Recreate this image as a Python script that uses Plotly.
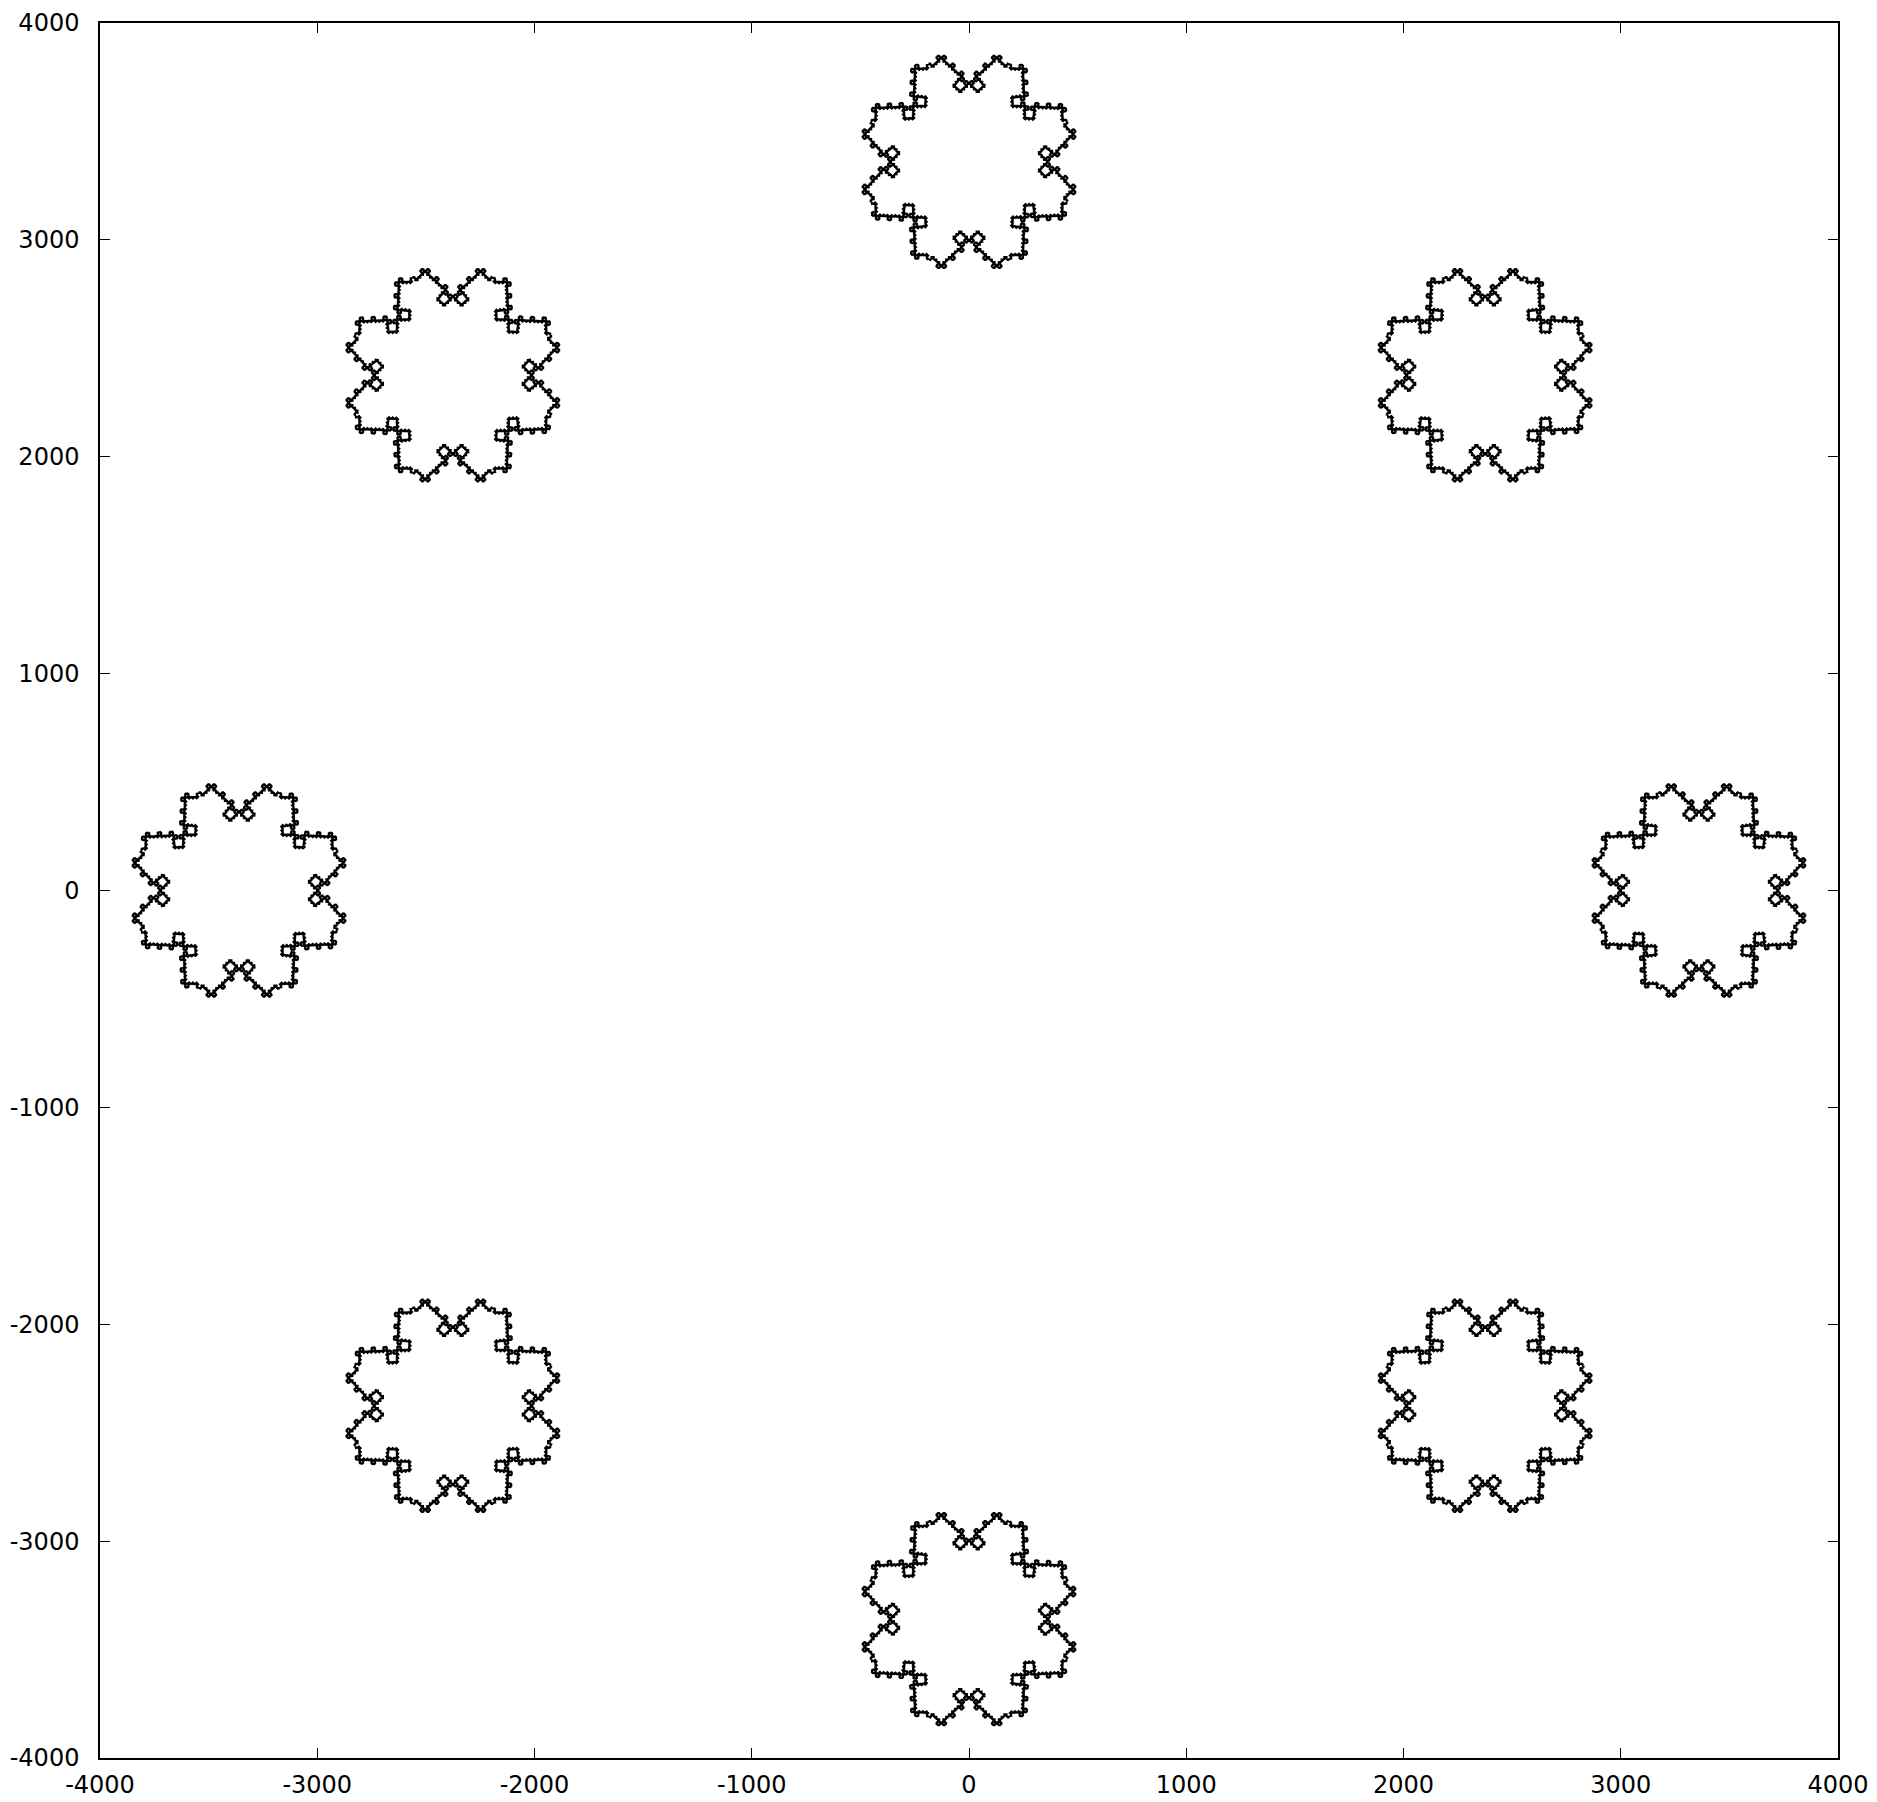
import numpy as np
import plotly.graph_objects as go

# ---- data ----
ring_angles_deg = [0, 45, 90, 135, 180, 225, 270, 315]   # directions of the 8 flakes
ring_radius = [3360]                                       # distance of flake centres from origin
flake_half_width = [490]                                   # horizontal half-extent of each flake
flake_sides = [8]                                          # base polygon of each flake
generator_turn_deg = [85]                                  # turn angle of the Koch-type generator
generator_flips = [-1, -1, -1, -1, -1]                     # bump side of each sub-segment
recursion_depth = [4]
x_ticks = [-4000, -3000, -2000, -1000, 0, 1000, 2000, 3000, 4000]
y_ticks = [-4000, -3000, -2000, -1000, 0, 1000, 2000, 3000, 4000]


def generator(turn_deg):
    t = np.deg2rad(turn_deg)
    return np.array([1, np.exp(1j * t), 1, np.exp(-1j * t), 1])


def edge(a, b, g, depth, flips, sign):
    if depth == 0:
        return [a]
    gg = g if sign > 0 else np.conj(g)
    c = np.concatenate([[0], np.cumsum(gg)]) / np.sum(gg)
    pts = a + (b - a) * c
    out = []
    for k, (p, q) in enumerate(zip(pts[:-1], pts[1:])):
        out.extend(edge(p, q, g, depth - 1, flips, sign * flips[k]))
    return out


def unit_flake():
    n = flake_sides[0]
    base = [np.exp(1j * (2 * np.pi * k / n + np.pi / n)) for k in range(n + 1)]
    g = generator(generator_turn_deg[0])
    pts = []
    for a, b in zip(base[:-1], base[1:]):
        pts.extend(edge(a, b, g, recursion_depth[0], generator_flips, 1))
    pts.append(base[-1])
    p = np.array(pts)
    return p / np.abs(p.real).max()


shape = unit_flake() * flake_half_width[0]

xs, ys = [], []
for ang in ring_angles_deg:
    c = ring_radius[0] * np.exp(1j * np.deg2rad(ang))
    p = shape + c
    xs.extend(p.real.tolist() + [None])
    ys.extend(p.imag.tolist() + [None])

fig = go.Figure()
fig.add_trace(go.Scatter(x=xs, y=ys, mode="lines",
                         line=dict(color="black", width=1.8), hoverinfo="skip",
                         showlegend=False))

axis_common = dict(showgrid=False, zeroline=False, showline=True, linecolor="black",
                   linewidth=1.5, mirror="allticks", ticks="inside", ticklen=10,
                   tickwidth=1.2, tickcolor="black", automargin=False,
                   ticklabeloverflow="allow",
                   tickfont=dict(family="DejaVu Sans", size=24, color="black"))
fig.update_xaxes(range=[-4000, 4000], tickvals=x_ticks,
                 ticktext=[str(v) for v in x_ticks], ticklabelstandoff=4, **axis_common)
fig.update_yaxes(range=[-4000, 4000], tickvals=y_ticks,
                 ticktext=[str(v) for v in y_ticks], ticklabelstandoff=14, **axis_common)
fig.update_layout(width=1877, height=1802, plot_bgcolor="white", paper_bgcolor="white",
                  margin=dict(l=92, r=47, t=15, b=52), showlegend=False)
fig.write_html("out.html")
